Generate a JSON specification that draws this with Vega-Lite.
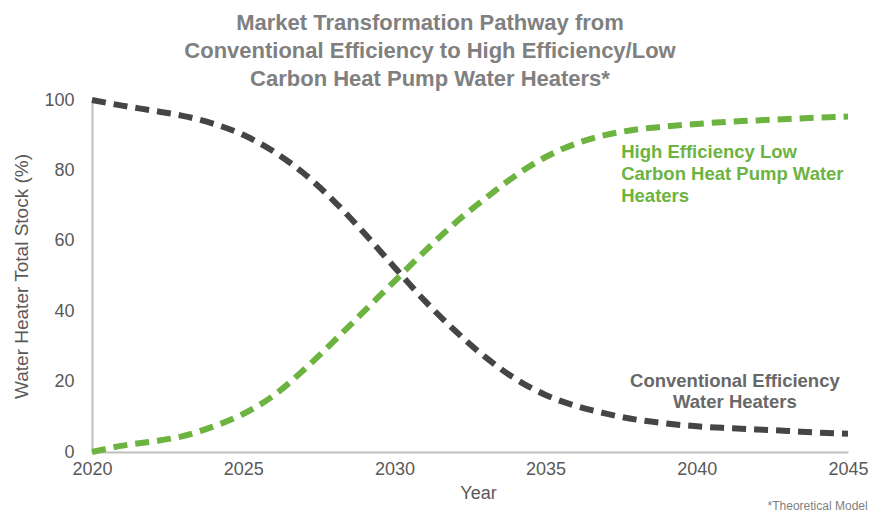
{
  "$schema": "https://vega.github.io/schema/vega-lite/v6.json",
  "width": 756,
  "height": 352,
  "autosize": {"type": "none"},
  "padding": {"left": 92, "top": 100, "right": 28, "bottom": 60},
  "background": "white",
  "config": {"view": {"stroke": null}, "font": "Liberation Sans"},
  "title": {
    "text": ["Market Transformation Pathway from", "Conventional Efficiency to High Efficiency/Low", "Carbon Heat Pump Water Heaters*"],
    "font": "Liberation Sans",
    "fontSize": 22,
    "fontWeight": "bold",
    "color": "#808080",
    "lineHeight": 28,
    "anchor": "middle",
    "dx": -40,
    "offset": -3
  },
  "datasets": {
    "curves": [
      {"year": 2020, "value": 100, "series": "Conventional"},
      {"year": 2021, "value": 98.4, "series": "Conventional"},
      {"year": 2022, "value": 97, "series": "Conventional"},
      {"year": 2023, "value": 95.5, "series": "Conventional"},
      {"year": 2024, "value": 93.3, "series": "Conventional"},
      {"year": 2025, "value": 90.1, "series": "Conventional"},
      {"year": 2026, "value": 85.4, "series": "Conventional"},
      {"year": 2027, "value": 79.2, "series": "Conventional"},
      {"year": 2028, "value": 71.3, "series": "Conventional"},
      {"year": 2029, "value": 62.2, "series": "Conventional"},
      {"year": 2030, "value": 52.5, "series": "Conventional"},
      {"year": 2031, "value": 43, "series": "Conventional"},
      {"year": 2032, "value": 34.5, "series": "Conventional"},
      {"year": 2033, "value": 27, "series": "Conventional"},
      {"year": 2034, "value": 20.8, "series": "Conventional"},
      {"year": 2035, "value": 16.2, "series": "Conventional"},
      {"year": 2036, "value": 13.1, "series": "Conventional"},
      {"year": 2037, "value": 10.9, "series": "Conventional"},
      {"year": 2038, "value": 9.2, "series": "Conventional"},
      {"year": 2039, "value": 8.1, "series": "Conventional"},
      {"year": 2040, "value": 7.3, "series": "Conventional"},
      {"year": 2041, "value": 6.8, "series": "Conventional"},
      {"year": 2042, "value": 6.4, "series": "Conventional"},
      {"year": 2043, "value": 6, "series": "Conventional"},
      {"year": 2044, "value": 5.5, "series": "Conventional"},
      {"year": 2045, "value": 5.2, "series": "Conventional"},
      {"year": 2020, "value": 0, "series": "HeatPump"},
      {"year": 2021, "value": 1.8, "series": "HeatPump"},
      {"year": 2022, "value": 3, "series": "HeatPump"},
      {"year": 2023, "value": 4.5, "series": "HeatPump"},
      {"year": 2024, "value": 7.2, "series": "HeatPump"},
      {"year": 2025, "value": 10.8, "series": "HeatPump"},
      {"year": 2026, "value": 16, "series": "HeatPump"},
      {"year": 2027, "value": 23.3, "series": "HeatPump"},
      {"year": 2028, "value": 31.5, "series": "HeatPump"},
      {"year": 2029, "value": 40, "series": "HeatPump"},
      {"year": 2030, "value": 48.5, "series": "HeatPump"},
      {"year": 2031, "value": 57, "series": "HeatPump"},
      {"year": 2032, "value": 65, "series": "HeatPump"},
      {"year": 2033, "value": 72, "series": "HeatPump"},
      {"year": 2034, "value": 78.5, "series": "HeatPump"},
      {"year": 2035, "value": 83.8, "series": "HeatPump"},
      {"year": 2036, "value": 87.6, "series": "HeatPump"},
      {"year": 2037, "value": 90.1, "series": "HeatPump"},
      {"year": 2038, "value": 91.6, "series": "HeatPump"},
      {"year": 2039, "value": 92.5, "series": "HeatPump"},
      {"year": 2040, "value": 93.2, "series": "HeatPump"},
      {"year": 2041, "value": 93.8, "series": "HeatPump"},
      {"year": 2042, "value": 94.2, "series": "HeatPump"},
      {"year": 2043, "value": 94.6, "series": "HeatPump"},
      {"year": 2044, "value": 95, "series": "HeatPump"},
      {"year": 2045, "value": 95.3, "series": "HeatPump"}
    ],
    "greenLabels": [
      {"year": 2037.5, "value": 85.2, "label": "High Efficiency Low"},
      {"year": 2037.5, "value": 79.0, "label": "Carbon Heat Pump Water"},
      {"year": 2037.5, "value": 72.8, "label": "Heaters"}
    ],
    "grayLabels": [
      {"year": 2041.26, "value": 20.2, "label": "Conventional Efficiency"},
      {"year": 2041.26, "value": 14.2, "label": "Water Heaters"}
    ],
    "note": [
      {"year": 2045.65, "value": -15.3, "label": "*Theoretical Model"}
    ]
  },
  "layer": [
    {
      "data": {"name": "curves"},
      "mark": {"type": "line", "strokeWidth": 6, "strokeDash": [14, 8], "interpolate": "monotone", "clip": false},
      "encoding": {
        "x": {
          "field": "year", "type": "quantitative",
          "scale": {"domain": [2020, 2045], "nice": false, "zero": false},
          "axis": {
            "title": "Year", "values": [2020, 2025, 2030, 2035, 2040, 2045], "format": "d",
            "grid": false, "ticks": false, "domainColor": "#bfbfbf", "domainWidth": 2,
            "labelFontSize": 18, "labelColor": "#595959", "labelPadding": 8, "labelFlush": false,
            "titleFontSize": 18, "titleFontWeight": "normal", "titleColor": "#595959", "titlePadding": 6, "titleX": 386
          }
        },
        "y": {
          "field": "value", "type": "quantitative",
          "scale": {"domain": [0, 100], "nice": false},
          "axis": {
            "title": "Water Heater Total Stock (%)", "values": [0, 20, 40, 60, 80, 100],
            "grid": false, "ticks": false, "domainColor": "#bfbfbf", "domainWidth": 2,
            "labelFontSize": 18, "labelColor": "#595959", "labelPadding": 18,
            "titleFontSize": 19, "titleFontWeight": "normal", "titleColor": "#595959", "titlePadding": 12
          }
        },
        "color": {
          "field": "series", "type": "nominal",
          "scale": {"domain": ["Conventional", "HeatPump"], "range": ["#454545", "#6cb33f"]},
          "legend": null
        },
        "order": {"field": "year"}
      }
    },
    {
      "data": {"name": "greenLabels"},
      "mark": {"type": "text", "fontWeight": "bold", "fontSize": 18.5, "baseline": "middle", "align": "left", "color": "#6cb33f"},
      "encoding": {
        "x": {"field": "year", "type": "quantitative"},
        "y": {"field": "value", "type": "quantitative"},
        "text": {"field": "label"}
      }
    },
    {
      "data": {"name": "grayLabels"},
      "mark": {"type": "text", "fontWeight": "bold", "fontSize": 18.5, "baseline": "middle", "align": "center", "color": "#686868"},
      "encoding": {
        "x": {"field": "year", "type": "quantitative"},
        "y": {"field": "value", "type": "quantitative"},
        "text": {"field": "label"}
      }
    },
    {
      "data": {"name": "note"},
      "mark": {"type": "text", "fontSize": 12, "color": "#7f7f7f", "align": "right", "baseline": "middle", "clip": false},
      "encoding": {
        "x": {"field": "year", "type": "quantitative"},
        "y": {"field": "value", "type": "quantitative"},
        "text": {"field": "label"}
      }
    }
  ]
}
